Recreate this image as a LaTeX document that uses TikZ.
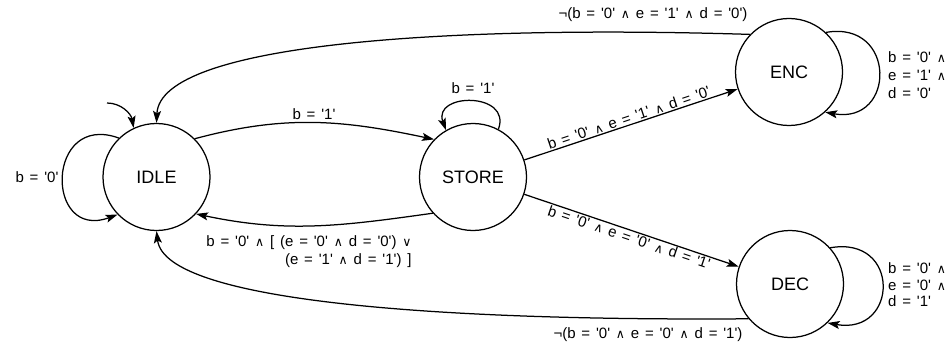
\documentclass[tikz,border=0pt]{standalone}
\usepackage{fontspec}
\setmainfont{Liberation Sans}[Ligatures=TeXOff]
\newfontfamily\lblfont{Liberation Sans}[Ligatures=TeXOff,WordSpace=1.4]
\newfontfamily\symfont{DejaVu Sans}
\usetikzlibrary{arrows.meta}
\newcommand\myand{{\symfont\fontsize{12.5}{12.5}\selectfont ∧}}
\newcommand\myor{{\symfont\fontsize{12.5}{12.5}\selectfont ∨}}
\begin{document}
\begin{tikzpicture}[x=1pt,y=1pt,
  st/.style={circle,draw,line width=1.25pt,minimum size=107pt,inner sep=0pt,font=\fontsize{18}{20}\selectfont},
  tr/.style={line width=1.25pt,-{Stealth[length=12pt,width=8pt,inset=2.5pt]}},
  lbl/.style={font=\lblfont\fontsize{15}{18}\selectfont,inner sep=2pt}]
\useasboundingbox (0,0) rectangle (949,343);
\node[st] (IDLE) at (156.5,166) {IDLE};
\node[st] (STORE) at (473,166) {STORE};
\node[st] (ENC) at (789,271) {ENC};
\node[st] (DEC) at (790,59) {DEC};
\coordinate (init) at (107,240);
% initial
\draw[tr] (init) to[out=0,in=100] (IDLE.115);
% IDLE loop
\draw[tr] (IDLE.134) .. controls +(160:78) and +(200:78) .. (IDLE.224);
\node[lbl] (l0) at (37,166) {b = '0'};
% IDLE -> STORE
\draw[tr] (IDLE.45) to[out=15,in=168] node[lbl,midway,above] {b = '1'} (STORE.136);
% STORE loop
\draw[tr] (STORE.62) .. controls +(70:40) and +(110:40) .. (STORE.120);
\node[lbl] (l1) at (473,255) {b = '1'};
% STORE -> IDLE
\draw[tr] (STORE.222) to[out=188,in=-12] (IDLE.-43);
\node[lbl,align=right] (l2) at (309,91) {b = '0' \myand{} [ (e = '0' \myand{} d = '0') \myor\\ (e = '1' \myand{} d = '1') ]};
% STORE -> ENC, DEC
\draw[tr] (STORE) -- (ENC) node[lbl,midway,above,sloped,inner sep=1pt] {b = '0' \myand{} e = '1' \myand{} d = '0'};
\draw[tr] (STORE) -- (DEC) node[lbl,midway,below,sloped,inner sep=1pt] {b = '0' \myand{} e = '0' \myand{} d = '1'};
% ENC -> IDLE
\draw[tr] (ENC.136) .. controls (450,318) and (160,300) .. (IDLE.90);
\node[lbl] (l3) at (653,328) {¬(b = '0' \myand{} e = '1' \myand{} d = '0')};
% DEC -> IDLE
\draw[tr] (DEC.220) .. controls (450,22) and (165,40) .. (IDLE.270);
\node[lbl] (l4) at (648,8) {¬(b = '0' \myand{} e = '0' \myand{} d = '1')};
% ENC loop
\draw[tr] (ENC.47) .. controls +(10:72) and +(-10:72) .. (ENC.-48);
\node[lbl,anchor=west,align=left] (l5) at (886,268) {b = '0' \myand\\ e = '1' \myand\\ d = '0'};
% DEC loop
\draw[tr] (DEC.42) .. controls +(10:72) and +(-10:72) .. (DEC.-46);
\node[lbl,anchor=west,align=left,font=\lblfont\fontsize{15}{16.5}\selectfont] (l6) at (886,58) {b = '0' \myand\\ e = '0' \myand\\ d = '1'};
\end{tikzpicture}
\end{document}
